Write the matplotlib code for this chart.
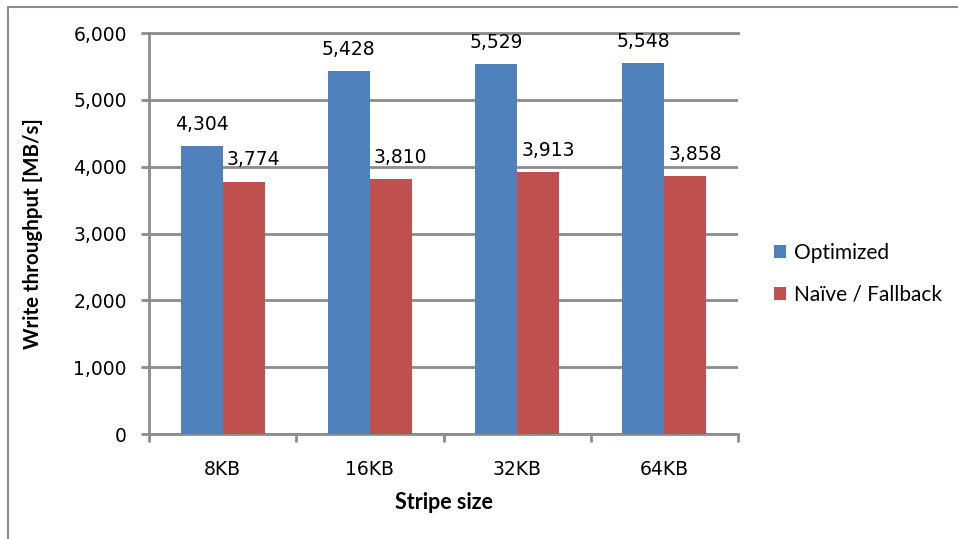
import matplotlib
matplotlib.use('agg')
import matplotlib.pyplot as plt
import numpy as np
from matplotlib.patches import Rectangle
from matplotlib.ticker import FuncFormatter

stripe_sizes = ['8KB', '16KB', '32KB', '64KB']
optimized = [4304, 5428, 5529, 5548]
naive = [3774, 3810, 3913, 3858]

plt.rcParams['font.family'] = ['DejaVu Sans']
grey = '#8c8c8c'

fig = plt.figure(figsize=(9.58, 5.39), dpi=100)
ax = fig.add_axes([149 / 958, 1 - 434 / 539, (738 - 149) / 958, (434 - 33) / 539])

x = np.arange(len(stripe_sizes))
w = 0.286
b1 = ax.bar(x - w / 2, optimized, w, color='#4F81BD', label='Optimized', zorder=3)
b2 = ax.bar(x + w / 2, naive, w, color='#C0504D', label='Naïve / Fallback', zorder=3)

# value labels; the red ones sit a little to the right
for bars, vals, dx in ((b1, optimized, 0), (b2, naive, 7)):
    for bar, v in zip(bars, vals):
        ax.annotate(f'{v:,}', (bar.get_x() + bar.get_width() / 2, v),
                    xytext=(dx, 9), textcoords='offset points',
                    ha='center', va='bottom', fontsize=13.5)

ax.set_xlim(-0.5, len(stripe_sizes) - 0.5)
ax.set_ylim(0, 6000)
ax.set_yticks(range(0, 6001, 1000))
ax.yaxis.set_major_formatter(FuncFormatter(lambda v, p: f'{int(v):,}'))
ax.set_xticks(x)
ax.set_xticklabels(stripe_sizes)
ax.set_xticks(np.arange(-0.5, len(stripe_sizes)), minor=True)
ax.tick_params(axis='x', which='major', length=0, pad=19, labelsize=13.5)
ax.tick_params(axis='x', which='minor', length=6, width=2, color=grey, direction='out')
ax.tick_params(axis='y', length=6, width=2, color=grey, pad=10, labelsize=13.5)

ax.grid(axis='y', color=grey, linewidth=2, zorder=0)
ax.axhline(6000, color=grey, linewidth=2, clip_on=False, zorder=0)
for s in ('top', 'right'):
    ax.spines[s].set_visible(False)
for s in ('left', 'bottom'):
    ax.spines[s].set_color(grey)
    ax.spines[s].set_linewidth(2)

ax.set_ylabel('Write throughput [MB/s]', fontsize=14.8, fontweight='bold',
              family='Lato', labelpad=22)
ax.set_xlabel('Stripe size', fontsize=15.5, fontweight='bold', family='Lato', labelpad=9)

ax.legend(loc='center left', bbox_to_anchor=(1.03, 0.40), frameon=False,
          prop={'family': 'Lato', 'size': 15}, handlelength=0.55, handleheight=0.6,
          handletextpad=0.4, labelspacing=1.05)

fig.patches.append(Rectangle((8 / 958, -0.1), 1.1, 1 - 7 / 539 + 0.1,
                             transform=fig.transFigure, fill=False,
                             edgecolor=grey, linewidth=1.5))

fig.savefig('out.png', dpi=100)
